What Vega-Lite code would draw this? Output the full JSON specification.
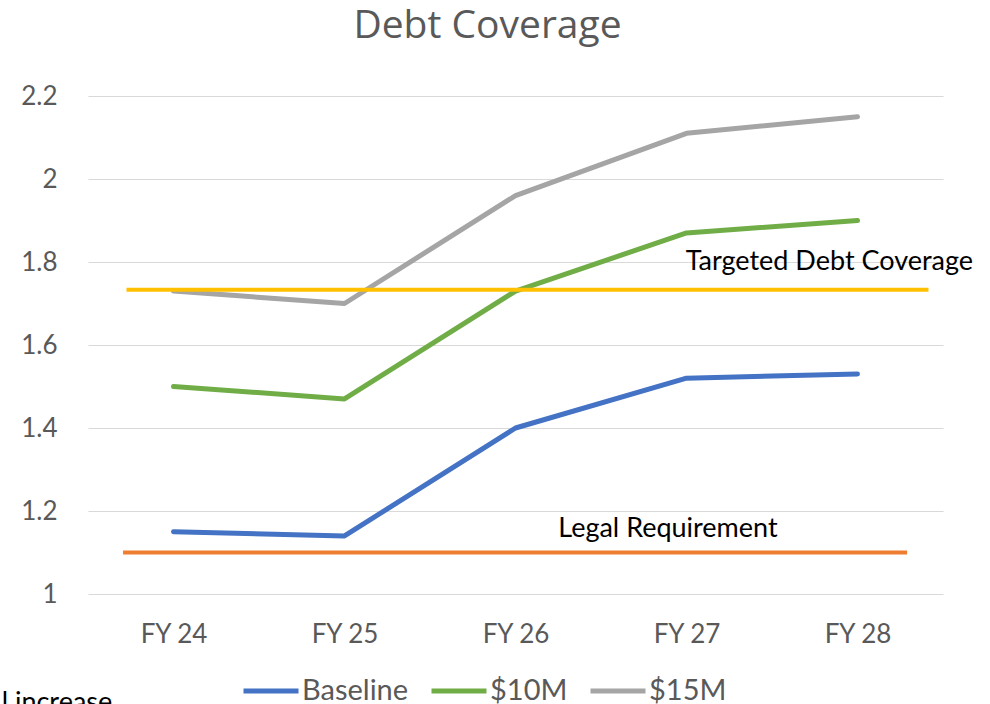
{
  "$schema": "https://vega.github.io/schema/vega-lite/v6.json",
  "width": 855,
  "height": 498,
  "autosize": {"type": "none"},
  "padding": {"left": 88, "top": 96, "right": 47, "bottom": 110},
  "background": "white",
  "config": {"font": "Lato", "view": {"stroke": null}},
  "title": {"text": "Debt Coverage", "fontSize": 39, "font": "Open Sans", "fontWeight": "normal", "color": "#595959", "anchor": "middle", "frame": "group", "dx": -28, "offset": 37},
  "datasets": {
    "series": [
      {"fy": "FY 24", "series": "Baseline", "value": 1.15},
      {"fy": "FY 25", "series": "Baseline", "value": 1.14},
      {"fy": "FY 26", "series": "Baseline", "value": 1.40},
      {"fy": "FY 27", "series": "Baseline", "value": 1.52},
      {"fy": "FY 28", "series": "Baseline", "value": 1.53},
      {"fy": "FY 24", "series": "$10M", "value": 1.50},
      {"fy": "FY 25", "series": "$10M", "value": 1.47},
      {"fy": "FY 26", "series": "$10M", "value": 1.73},
      {"fy": "FY 27", "series": "$10M", "value": 1.87},
      {"fy": "FY 28", "series": "$10M", "value": 1.90},
      {"fy": "FY 24", "series": "$15M", "value": 1.73},
      {"fy": "FY 25", "series": "$15M", "value": 1.70},
      {"fy": "FY 26", "series": "$15M", "value": 1.96},
      {"fy": "FY 27", "series": "$15M", "value": 2.11},
      {"fy": "FY 28", "series": "$15M", "value": 2.15}
    ],
    "refs": [
      {"name": "Targeted Debt Coverage", "value": 1.733, "start": 0.045, "end": 0.983, "color": "#FFC000"},
      {"name": "Legal Requirement", "value": 1.10, "start": 0.041, "end": 0.958, "color": "#ED7D31"}
    ],
    "labels": [
      {"text": "Targeted Debt Coverage", "pos": 0.699, "value": 1.80},
      {"text": "Legal Requirement", "pos": 0.55, "value": 1.157},
      {"text": "l increase", "pos": -0.101, "value": 0.737}
    ]
  },
  "layer": [
    {
      "data": {"name": "series"},
      "mark": {"type": "line", "strokeWidth": 5, "strokeCap": "round", "strokeJoin": "round"},
      "encoding": {
        "x": {"field": "fy", "type": "ordinal", "scale": {"type": "point", "padding": 0.5}, "sort": null,
          "axis": {"title": null, "labelAngle": 0, "ticks": false, "domain": false, "grid": false, "labelFontSize": 26, "labelColor": "#595959", "labelPadding": 27, "labelFont": "Lato"}},
        "y": {"field": "value", "type": "quantitative", "scale": {"domain": [1, 2.2], "nice": false, "zero": false},
          "axis": {"title": null, "values": [1, 1.2, 1.4, 1.6, 1.8, 2, 2.2], "format": "~g", "ticks": false, "domain": false, "grid": true, "gridColor": "#D9D9D9", "gridWidth": 1.2, "labelFontSize": 26, "labelColor": "#595959", "labelPadding": 31, "labelFont": "Lato"}},
        "color": {"field": "series", "type": "nominal",
          "scale": {"domain": ["Baseline", "$10M", "$15M"], "range": ["#4472C4", "#70AD47", "#A5A5A5"]},
          "legend": {"title": null, "orient": "none", "direction": "horizontal", "legendX": 153, "legendY": 565, "symbolType": "stroke", "symbolSize": 3025, "symbolStrokeWidth": 5, "labelFontSize": 29, "labelColor": "#595959", "labelFont": "Lato", "columnPadding": 12, "labelOffset": 1}}
      }
    },
    {
      "data": {"name": "refs"},
      "mark": {"type": "rule", "strokeWidth": 4},
      "encoding": {
        "x": {"field": "start", "type": "quantitative", "scale": {"domain": [0, 1], "nice": false, "zero": false}, "axis": null},
        "x2": {"field": "end"},
        "y": {"field": "value", "type": "quantitative"},
        "stroke": {"field": "color", "type": "nominal", "scale": null, "legend": null}
      }
    },
    {
      "data": {"name": "labels"},
      "mark": {"type": "text", "align": "left", "baseline": "middle", "fontSize": 27, "color": "black", "font": "Lato", "clip": false},
      "encoding": {
        "x": {"field": "pos", "type": "quantitative", "scale": {"domain": [0, 1], "nice": false, "zero": false}, "axis": null},
        "y": {"field": "value", "type": "quantitative"},
        "text": {"field": "text"}
      }
    }
  ],
  "resolve": {"scale": {"x": "independent"}}
}
